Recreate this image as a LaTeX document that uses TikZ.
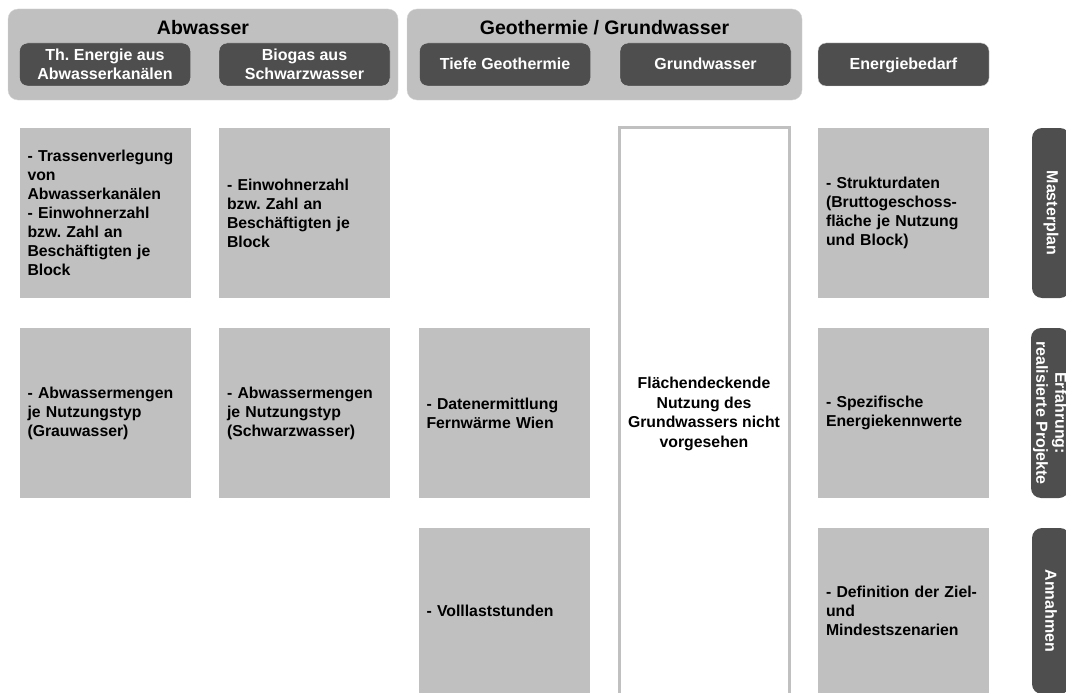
\documentclass[tikz,border=0pt]{standalone}
\usepackage{fontspec}
\setmainfont{Liberation Sans}
\usepackage{xcolor}
\usepackage{tikz}
\frenchspacing

\definecolor{boxgray}{RGB}{192,192,192}
\definecolor{darkgray}{RGB}{78,78,78}
\definecolor{edgegray}{RGB}{212,212,212}

\begin{document}
\begin{tikzpicture}[x=1pt,y=-1pt,
    grp/.style={draw=edgegray, fill=boxgray, rounded corners=10pt, minimum width=390pt, minimum height=91pt, inner sep=0pt},
    grptitle/.style={font=\bfseries\fontsize{19.5}{22}\selectfont},
    head/.style={draw=edgegray, fill=darkgray, text=white, rounded corners=8pt, minimum width=171pt, minimum height=43pt, inner sep=0pt, align=center, font=\bfseries\fontsize{16}{19}\selectfont},
    headone/.style={head, text height=12pt, text depth=1pt},
    cell/.style={fill=boxgray, minimum height=170pt, inner xsep=8pt, inner ysep=0pt, text width=155pt, align=left, font=\bfseries\fontsize{15.8}{19}\selectfont},
    tab/.style={fill=darkgray, text=white, rounded corners=10pt, rotate=-90, minimum width=170pt, minimum height=38pt, inner sep=0pt, align=center, font=\bfseries\fontsize{16}{19}\selectfont}]
            \useasboundingbox (0,0) rectangle (1066,693);

            % Top - Abwasser
            \node[grp] (abw) at (203,54.5) {};
            \node[grptitle] (abwtitle) at (203,28) {Abwasser};
            \node[head] (kanal) at (105,64.5) {Th. Energie aus\\Abwasserkanälen};
            \node[head] (biogas) at (304.5,64.5) {Biogas aus\\Schwarzwasser};

            % Top - Geothermie / Grundwasser
            \node[grp, minimum width=395pt] (geo) at (604.5,54.5) {};
            \node[grptitle] (geotitle) at (604.5,28) {Geothermie / Grundwasser};
            \node[headone] (tiefe) at (505,64.5) {Tiefe Geothermie};
            \node[headone] (grund) at (705.5,64.5) {Grundwasser};

            % Top - Energiebedarf
            \node[headone] (bedarf) at (903.5,64.5) {Energiebedarf};

            % Row 1 - Masterplan
            \node[cell] (kanal1) at (105,213) {- Trassenverlegung\\von\\Abwasserkanälen\\- Einwohnerzahl\\bzw. Zahl an\\Beschäftigten je\\Block};
            \node[cell] (biogas1) at (304.5,213) {- Einwohnerzahl\\bzw. Zahl an\\Beschäftigten je\\Block};
            \node[cell] (bedarf1) at (903.5,213) {- Strukturdaten\\(Bruttogeschoss-\\fläche je Nutzung\\und Block)};

            % Row 2 - Erfahrung
            \node[cell] (kanal2) at (105,413) {- Abwassermengen\\je Nutzungstyp\\(Grauwasser)};
            \node[cell] (biogas2) at (304.5,413) {- Abwassermengen\\je Nutzungstyp\\(Schwarzwasser)};
            \node[cell] (tiefe2) at (504,413) {- Datenermittlung\\Fernwärme Wien};
            \node[cell] (bedarf2) at (903.5,413) {- Spezifische\\Energiekennwerte};

            % Row 3 - Annahmen
            \node[cell, minimum height=166pt] (tiefe3) at (504,611) {- Volllaststunden};
            \node[cell, minimum height=166pt] (bedarf3) at (903.5,611) {- Definition der Ziel-\\und\\Mindestszenarien};

            % Grundwasser column
            \node[draw=boxgray, line width=3pt, fill=white, minimum width=170pt, minimum height=574pt, inner sep=0pt, align=center, font=\bfseries\fontsize{15.8}{19.5}\selectfont] (grundcol) at (704,414) {Flächendeckende\\Nutzung des\\Grundwassers nicht\\vorgesehen};

            % Right side - tabs
            \node[tab] (master) at (1051,213) {Masterplan};
            \node[tab] (erfahrung) at (1050,413) {Erfahrung:\\realisierte Projekte};
            \node[tab, minimum width=166pt] (annahmen) at (1051,611) {Annahmen};
        \end{tikzpicture}
\end{document}
